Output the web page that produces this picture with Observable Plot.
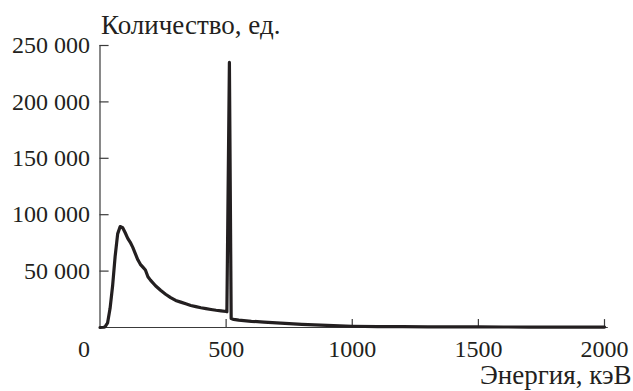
<!DOCTYPE html>
<html>
<head>
<meta charset="utf-8">
<script src="https://cdn.jsdelivr.net/npm/d3@7"></script>
<script src="https://cdn.jsdelivr.net/npm/@observablehq/plot@0.6"></script>
<style>
  html, body { margin: 0; padding: 0; background: #fff; }
  #chart svg text { font-family: "Liberation Serif", "DejaVu Serif", serif !important; font-size: 24px !important; font-variant: normal !important; }
  #chart svg .ttl text { font-size: 27px !important; }
</style>
</head>
<body>
<div id="chart"></div>
<script>
const energy = [0, 15, 20, 30, 40, 50, 60, 70, 80, 90, 100, 110, 120, 130, 140, 150, 160, 170, 180, 190, 200,
  220, 240, 260, 280, 300, 320, 340, 360, 380, 400, 420, 440, 460, 480, 500, 503, 513, 520, 530, 550,
  600, 650, 700, 750, 800, 850, 900, 950, 1000, 1100, 1200, 1300, 1400, 1500, 1600, 1700, 1800, 1900, 2000];
const counts = [0, 200, 600, 4000, 17000, 37000, 63000, 83000, 89500, 88500, 84000, 79000, 75500, 71000, 65500, 60000, 56000, 53500, 51000, 45000, 42000,
  37000, 33000, 29500, 26500, 24000, 22500, 21000, 19500, 18500, 17500, 16800, 16000, 15300, 14700, 14200, 14000, 235000, 8000, 7200, 6500,
  5500, 4800, 4100, 3400, 2800, 2300, 1800, 1400, 1100, 800, 700, 600, 550, 500, 450, 420, 400, 380, 350];
const xTicks = [500, 1000, 1500, 2000];
const yTicks = [50000, 100000, 150000, 200000, 250000];
const originLabel = "0";
const yTitle = "Количество, ед.";
const xTitle = "Энергия, кэВ";

const data = energy.map((e, i) => ({e, c: counts[i]}));
const ink = "#231f20";
const axisInk = "#3a3a3a";
const fmt = d => d3.format("d")(d).replace(/(\d)(?=(\d{3})+$)/g, "$1 ");

const chart = Plot.plot({
  width: 633,
  height: 391,
  marginLeft: 99.5,
  marginRight: 29,
  marginTop: 45,
  marginBottom: 64,
  style: {background: "#fff"},
  x: {domain: [0, 2000]},
  y: {domain: [0, 250000]},
  marks: [
    Plot.ruleX([0], {y1: 0, y2: 250000, stroke: axisInk, strokeWidth: 1.2}),
    Plot.ruleY([0], {x1: 0, x2: 2015, stroke: axisInk, strokeWidth: 1.2}),
    Plot.ruleY(yTicks, {x1: 0, x2: 36, stroke: axisInk, strokeWidth: 1.2}),
    Plot.ruleX(xTicks, {y1: 0, y2: 7000, stroke: axisInk, strokeWidth: 1.2}),
    Plot.axisY({ticks: yTicks, tickSize: 0, tickPadding: 10, tickFormat: fmt, label: null, fill: ink}),
    Plot.axisX({ticks: xTicks, tickSize: 0, tickPadding: 12, tickFormat: d => String(d), label: null, fill: ink}),
    Plot.text([originLabel], {x: 0, y: 0, text: d => d, dx: -16, dy: 12, lineAnchor: "top", fill: ink}),
    Plot.line(data, {x: "e", y: "c", stroke: ink, strokeWidth: 3.2, strokeLinejoin: "round"}),
    Plot.text([yTitle], {x: 0, y: 250000, text: d => d, textAnchor: "start", lineAnchor: "bottom", dx: 1, dy: -12, fill: ink, className: "ttl"}),
    Plot.text([xTitle], {x: 2000, y: 0, text: d => d, textAnchor: "end", lineAnchor: "bottom", dx: 27, dy: 56, fill: ink, className: "ttl"})
  ]
});
document.getElementById("chart").appendChild(chart);
</script>
</body>
</html>
